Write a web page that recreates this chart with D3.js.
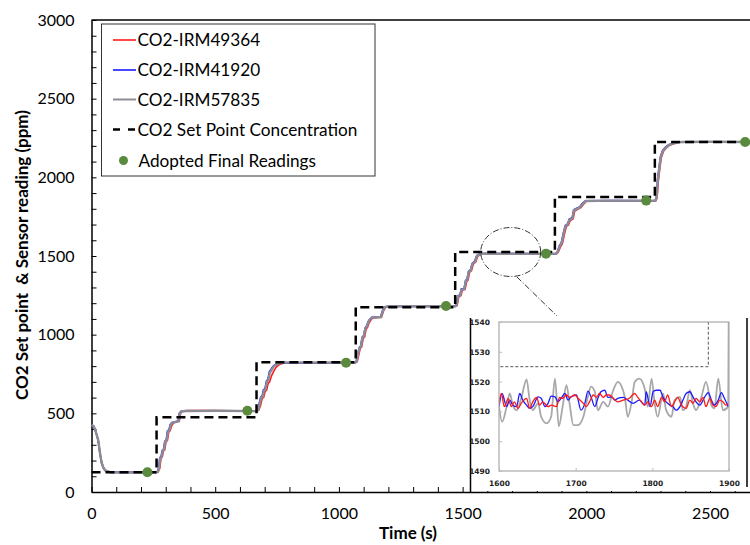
<!DOCTYPE html>
<html>
<head>
<meta charset="utf-8">
<script src="https://cdn.jsdelivr.net/npm/d3@7"></script>
<style>
body{margin:0;background:#fff;}
svg{display:block;font-family:Lato,"Open Sans",sans-serif;}
</style>
</head>
<body>
<svg id="chart"></svg>
<script>
// set point steps (time s, ppm)
var setTimes = [0,263,667,1068,1470,1873,2277,2660];
var setLevels = [125,475,825,1175,1525,1875,2225,2225];

// adopted final readings
var finalTimes = [226,630,1029,1433,1837,2242,2642];
var finalValues = [125,516,822,1182,1515,1852,2225];

var seriesNames = ["CO2-IRM49364","CO2-IRM41920","CO2-IRM57835"];

var redData = [[0,420],[8,418],[14,398],[20,368],[27,332],[34,255],[41,190],[48,158],[55,140],[65,131],[80,127],[150,126],[200,127],[264,127],
[270,130],[276,150],[281,215],[286,222],[291,262],[296,268],[301,318],[307,328],[312,380],[318,390],[324,420],[331,438],[343,445],[355,450],[360,500],[367,512],[383,517],[500,517],[670,515],
[676,520],[684,555],[690,595],[696,602],[702,640],[708,648],[714,690],[720,700],[728,740],[736,765],[745,790],[755,806],[768,816],[785,821],[900,823],[1068,823],
[1074,828],[1080,868],[1086,912],[1092,922],[1098,975],[1104,986],[1110,1035],[1116,1048],[1122,1076],[1130,1095],[1138,1106],[1172,1111],[1180,1150],[1189,1174],[1205,1180],[1300,1182],[1472,1181],
[1478,1186],[1484,1238],[1493,1248],[1499,1282],[1510,1288],[1516,1336],[1522,1346],[1528,1396],[1536,1407],[1543,1448],[1553,1462],[1561,1498],[1571,1509],[1590,1515],[1700,1514],[1880,1515],
[1887,1525],[1895,1556],[1903,1576],[1911,1635],[1919,1686],[1928,1697],[1935,1726],[1947,1737],[1953,1786],[1965,1797],[1978,1808],[1988,1828],[2001,1848],[2100,1851],[2281,1852],
[2286,1868],[2291,1975],[2297,2055],[2303,2125],[2312,2166],[2324,2188],[2337,2204],[2353,2214],[2373,2222],[2395,2226],[2500,2225],[2660,2226]];

var blueData = [[0,422],[8,419],[14,399],[20,369],[27,328],[34,246],[41,182],[48,153],[55,137],[65,129],[80,125],[150,125],[200,125],[261,125],
[266,128],[271,152],[276,218],[281,224],[286,264],[291,270],[296,322],[302,332],[307,388],[313,395],[318,428],[325,442],[338,447],[350,451],[355,502],[362,513],[378,515],[500,515],[667,515],
[672,522],[678,565],[684,604],[690,610],[695,650],[701,656],[707,705],[713,716],[719,765],[726,780],[733,798],[743,810],[758,819],[778,822],[900,821],[1065,822],
[1070,830],[1076,874],[1082,918],[1088,928],[1094,984],[1100,994],[1106,1044],[1112,1055],[1118,1083],[1125,1100],[1133,1110],[1168,1113],[1176,1152],[1184,1176],[1198,1180],[1300,1180],[1469,1180],
[1474,1188],[1480,1244],[1489,1254],[1495,1290],[1506,1294],[1512,1345],[1518,1354],[1524,1404],[1532,1414],[1539,1453],[1549,1468],[1557,1503],[1566,1511],[1582,1515],[1700,1515],[1877,1514],
[1883,1527],[1891,1564],[1899,1584],[1907,1645],[1915,1694],[1924,1704],[1931,1734],[1943,1743],[1949,1794],[1961,1803],[1973,1812],[1983,1833],[1996,1851],[2100,1852],[2278,1851],
[2283,1874],[2288,1985],[2294,2065],[2300,2134],[2309,2173],[2320,2192],[2333,2207],[2348,2216],[2368,2223],[2388,2225],[2500,2225],[2660,2225]];

var grayData = [[0,425],[8,420],[14,400],[20,370],[27,330],[34,250],[41,185],[48,155],[55,138],[65,130],[80,125],[150,124],[200,126],[262,126],
[268,128],[273,150],[278,215],[283,222],[288,262],[293,268],[298,320],[304,330],[309,385],[315,392],[320,425],[327,440],[340,446],[352,450],[357,500],[364,512],[380,515],[500,516],[668,514],
[673,520],[680,560],[686,600],[692,606],[697,645],[703,652],[709,700],[715,712],[721,760],[728,775],[735,795],[745,808],[760,818],[780,822],[900,822],[1066,822],
[1071,828],[1077,870],[1083,915],[1089,925],[1095,980],[1101,990],[1107,1040],[1113,1052],[1119,1080],[1126,1098],[1134,1108],[1170,1112],[1178,1150],[1186,1175],[1200,1180],[1300,1181],[1470,1180],
[1475,1185],[1481,1240],[1490,1250],[1496,1285],[1507,1290],[1513,1340],[1519,1350],[1525,1400],[1533,1410],[1540,1450],[1550,1465],[1558,1500],[1568,1510],[1585,1515],[1700,1514],[1878,1515],
[1884,1525],[1892,1560],[1900,1580],[1908,1640],[1916,1690],[1925,1700],[1932,1730],[1944,1740],[1950,1790],[1962,1800],[1975,1810],[1985,1830],[1998,1850],[2100,1852],[2279,1852],
[2284,1870],[2289,1980],[2295,2060],[2301,2130],[2310,2170],[2322,2190],[2335,2205],[2350,2215],[2370,2222],[2390,2225],[2500,2226],[2660,2225]];

// zoomed detail 1600-1900 s
var insetRed = [[1600,1512.7],[1603,1516.0],[1607,1511.6],[1612,1514.4],[1616,1511.6],[1620,1513.2],[1625,1511.0],[1629,1512.7],[1636,1514.4],[1640,1511.0],[1644,1513.2],[1649,1514.7],[1653,1512.1],[1657,1513.2],[1664,1511.6],[1668,1512.1],[1675,1511.6],[1679,1514.7],[1683,1514.4],[1688,1515.5],[1692,1514.7],[1699,1515.5],[1703,1514.4],[1710,1512.7],[1714,1511.6],[1718,1513.2],[1723,1515.5],[1727,1514.7],[1731,1516.0],[1736,1514.7],[1740,1515.5],[1744,1515.5],[1749,1514.4],[1755,1513.2],[1762,1513.8],[1770,1514.4],[1777,1516.0],[1781,1514.7],[1786,1513.2],[1790,1512.1],[1794,1513.2],[1799,1511.6],[1803,1513.8],[1807,1511.6],[1812,1514.7],[1816,1513.2],[1820,1515.5],[1825,1511.6],[1829,1513.2],[1833,1514.7],[1838,1512.1],[1844,1511.0],[1849,1513.8],[1853,1512.7],[1857,1514.4],[1862,1513.2],[1866,1514.7],[1870,1511.6],[1875,1514.4],[1879,1512.1],[1883,1511.6],[1888,1513.8],[1892,1513.2],[1896,1512.1],[1899,1512.7]];

var insetBlue = [[1600,1511.6],[1604,1516.0],[1610,1511.6],[1614,1513.8],[1618,1512.1],[1623,1511.6],[1627,1516.0],[1631,1513.8],[1636,1512.1],[1640,1511.0],[1644,1511.6],[1651,1514.9],[1655,1514.4],[1660,1511.6],[1664,1512.7],[1668,1515.1],[1673,1514.9],[1677,1513.2],[1681,1514.4],[1686,1516.0],[1690,1513.8],[1694,1514.9],[1701,1515.5],[1707,1510.4],[1712,1512.7],[1716,1516.8],[1720,1514.9],[1725,1511.6],[1729,1514.4],[1733,1516.6],[1738,1517.1],[1742,1514.7],[1747,1514.9],[1751,1513.8],[1755,1514.4],[1762,1514.7],[1768,1513.8],[1775,1512.7],[1783,1513.8],[1790,1512.1],[1792,1516.6],[1797,1511.6],[1801,1516.6],[1805,1517.1],[1810,1517.1],[1814,1514.7],[1818,1513.2],[1823,1512.1],[1827,1511.6],[1831,1510.4],[1836,1511.6],[1840,1513.8],[1844,1516.0],[1849,1516.6],[1853,1514.9],[1857,1513.2],[1862,1512.1],[1868,1514.7],[1873,1516.3],[1877,1513.8],[1881,1512.1],[1886,1513.8],[1890,1516.3],[1894,1514.4],[1899,1511.6]];

var insetGray = [[1600,1511.6],[1604,1506.5],[1610,1511.6],[1614,1516.0],[1618,1512.1],[1623,1510.4],[1629,1514.4],[1636,1520.7],[1640,1513.8],[1644,1510.4],[1651,1512.7],[1655,1508.2],[1662,1506.0],[1668,1508.2],[1673,1521.0],[1678,1505.0],[1683,1511.6],[1688,1518.8],[1692,1512.7],[1697,1505.4],[1703,1505.4],[1710,1508.2],[1716,1514.9],[1720,1518.3],[1725,1516.6],[1729,1510.4],[1736,1513.2],[1742,1511.6],[1749,1517.1],[1755,1519.9],[1764,1514.9],[1768,1508.2],[1773,1513.2],[1777,1519.9],[1783,1521.0],[1790,1517.7],[1794,1511.6],[1799,1521.0],[1803,1512.7],[1807,1508.2],[1814,1516.0],[1818,1510.4],[1825,1508.2],[1829,1513.8],[1836,1514.9],[1840,1510.4],[1844,1511.6],[1849,1517.1],[1853,1512.7],[1857,1510.4],[1864,1514.9],[1870,1519.9],[1877,1512.1],[1881,1511.0],[1886,1521.0],[1892,1510.4],[1899,1511.6],[1900,1560]];

var width = 750, height = 545;
var svg = d3.select("#chart").attr("width",width).attr("height",height);

var x = d3.scaleLinear().domain([0,2700]).range([91.5,759.5]);
var y = d3.scaleLinear().domain([0,3000]).range([492,20]);

var setPoints = setTimes.map(function(t,i){return [t,setLevels[i]]});

var line = d3.line()
    .x(function(d){return x(d[0])})
    .y(function(d){return y(d[1])});

// top border
svg.append("line")
    .attr("x1",x(0)).attr("x2",width)
    .attr("y1",y(3000)).attr("y2",y(3000))
    .attr("stroke","#000").attr("stroke-width",1.5);

var yAxis = d3.axisLeft(y)
    .tickValues(d3.range(0,3001,100))
    .tickFormat(function(d){return d%500==0 ? d : ""})
    .tickSizeInner(-5).tickSizeOuter(0).tickPadding(17);
var gy = svg.append("g").attr("transform","translate("+x(0)+",0)").call(yAxis);

var xAxis = d3.axisBottom(x)
    .tickValues(d3.range(0,2701,100))
    .tickFormat(function(d){return d%500==0 ? d : ""})
    .tickSizeInner(-5).tickSizeOuter(0).tickPadding(16);
var gx = svg.append("g").attr("transform","translate(0,"+y(0)+")").call(xAxis);

[gx,gy].forEach(function(g){
    g.select(".domain").attr("stroke","#000").attr("stroke-width",1.5);
    g.selectAll(".tick line").attr("stroke","#000").attr("stroke-width",1);
    g.selectAll("text").attr("font-size",16).attr("fill","#000").attr("font-family","Lato");
});

// sensor lines
svg.append("path").datum(redData).attr("d",line)
    .attr("fill","none").attr("stroke","#ff1a1a").attr("stroke-width",1.6);
svg.append("path").datum(blueData).attr("d",line)
    .attr("fill","none").attr("stroke","#1a1aff").attr("stroke-width",1.6);
svg.append("path").datum(grayData).attr("d",line)
    .attr("fill","none").attr("stroke","#8c8c96").attr("stroke-width",2.4);

// set point
svg.append("path").datum(setPoints)
    .attr("d",line.curve(d3.curveStepAfter))
    .attr("fill","none").attr("stroke","#000").attr("stroke-width",2.5)
    .attr("stroke-dasharray","9,5");
line.curve(d3.curveLinear);

// final readings
svg.selectAll("circle.final")
    .data(finalTimes)
    .enter()
    .append("circle")
    .attr("class","final")
    .attr("cx",function(t){return x(t)})
    .attr("cy",function(t,i){return y(finalValues[i])})
    .attr("r",5)
    .attr("fill","#5a8a3e");

// magnifier
svg.append("ellipse")
    .attr("cx",510.7).attr("cy",252).attr("rx",30).attr("ry",24.5)
    .attr("fill","none").attr("stroke","#333").attr("stroke-width",1)
    .attr("stroke-dasharray","6,2,1,2");
svg.append("line")
    .attr("x1",517).attr("y1",277).attr("x2",557).attr("y2",316)
    .attr("stroke","#333").attr("stroke-width",1)
    .attr("stroke-dasharray","6,2,1,2");

// inset
svg.append("rect").attr("x",470.5).attr("y",316).attr("width",277).attr("height",175).attr("fill","#fff");
svg.append("line").attr("x1",470.5).attr("x2",470.5).attr("y1",318).attr("y2",492).attr("stroke","#000").attr("stroke-width",1.5);
svg.append("line").attr("x1",747).attr("x2",747).attr("y1",318).attr("y2",487).attr("stroke","#000").attr("stroke-width",1.5);

var ix = d3.scaleLinear().domain([1600,1900]).range([499,729]);
var iy = d3.scaleLinear().domain([1490,1540]).range([471,322]);

svg.append("clipPath").attr("id","insetClip")
    .append("rect").attr("x",499).attr("y",322).attr("width",230).attr("height",149);

var iline = d3.line()
    .x(function(d){return ix(d[0])})
    .y(function(d){return iy(d[1])});

var ig = svg.append("g").attr("clip-path","url(#insetClip)");
ig.append("path").datum(setPoints).attr("d",iline.curve(d3.curveStepAfter))
    .attr("fill","none").attr("stroke","#555").attr("stroke-width",1).attr("stroke-dasharray","3,2");
iline.curve(d3.curveMonotoneX);
ig.append("path").datum(insetGray).attr("d",iline)
    .attr("fill","none").attr("stroke","#a8a8a8").attr("stroke-width",1.8);
ig.append("path").datum(insetBlue).attr("d",iline)
    .attr("fill","none").attr("stroke","#1a1aff").attr("stroke-width",1.3);
ig.append("path").datum(insetRed).attr("d",iline)
    .attr("fill","none").attr("stroke","#ff1a1a").attr("stroke-width",1.3);

svg.append("rect").attr("x",499).attr("y",322).attr("width",230).attr("height",149)
    .attr("fill","none").attr("stroke","#aaa").attr("stroke-width",1.2);

var iyAxis = d3.axisLeft(iy).tickValues(d3.range(1490,1541,10)).tickFormat(d3.format("d"))
    .tickSizeInner(-3).tickSizeOuter(0).tickPadding(9);
var ixAxis = d3.axisBottom(ix).tickValues(d3.range(1600,1901,100)).tickFormat(d3.format("d"))
    .tickSizeInner(-3).tickSizeOuter(0).tickPadding(10);
var giy = svg.append("g").attr("transform","translate(499,0)").call(iyAxis);
var gix = svg.append("g").attr("transform","translate(0,471)").call(ixAxis);
[giy,gix].forEach(function(g){
    g.select(".domain").remove();
    g.selectAll(".tick line").attr("stroke","#bbb");
    g.selectAll("text").attr("font-size",7.5).attr("font-weight","bold")
        .attr("font-family","DejaVu Sans").attr("fill","#222");
});

// axis titles
svg.append("text")
    .attr("x",408).attr("y",539)
    .attr("text-anchor","middle")
    .attr("font-size",17).attr("font-weight","bold")
    .text("Time (s)");
svg.append("text")
    .attr("transform","translate(28,255) rotate(-90)")
    .attr("text-anchor","middle")
    .attr("font-size",17).attr("font-weight","bold")
    .style("white-space","pre")
    .text("CO2 Set point  & Sensor reading (ppm)");

// legend
var legend = svg.append("g");
legend.append("rect")
    .attr("x",101.5).attr("y",24).attr("width",273.5).attr("height",152)
    .attr("fill","#fff").attr("stroke","#333").attr("stroke-width",1);
var legendItems = [
    {name:seriesNames[0], color:"#ff1a1a", w:1.6, dash:null},
    {name:seriesNames[1], color:"#1a1aff", w:1.6, dash:null},
    {name:seriesNames[2], color:"#8c8c96", w:2, dash:null},
    {name:"CO2 Set Point Concentration", color:"#000", w:2.5, dash:"7,8"},
    {name:"Adopted Final Readings", color:"#5a8a3e", w:0, dash:null}
];
var rowY = [40,70,99.5,129.5,160.5];
legendItems.forEach(function(item,i){
    if (i<4) {
        legend.append("line")
            .attr("x1",113).attr("x2",136).attr("y1",rowY[i]).attr("y2",rowY[i])
            .attr("stroke",item.color).attr("stroke-width",item.w)
            .attr("stroke-dasharray",item.dash);
    } else {
        legend.append("circle").attr("cx",123.5).attr("cy",rowY[i]).attr("r",4.5).attr("fill",item.color);
    }
    legend.append("text")
        .attr("x",i<4 ? 137.5 : 138.5).attr("y",rowY[i]).attr("dy","0.35em")
        .attr("font-size",17.2).attr("fill","#000")
        .text(item.name);
});
</script>
</body>
</html>
